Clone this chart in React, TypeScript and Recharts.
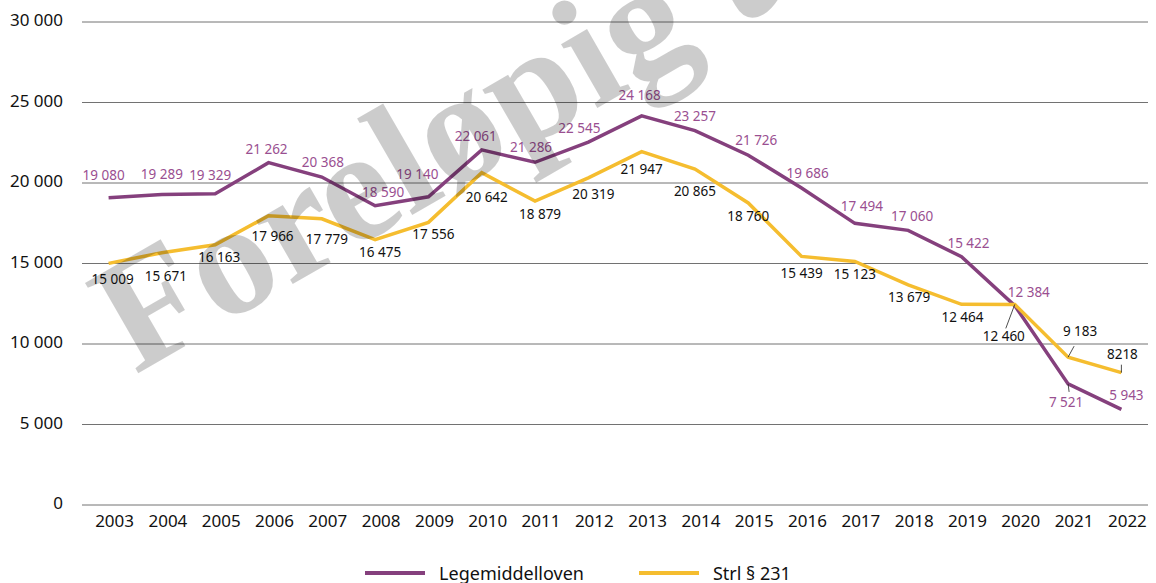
import React from 'react';
import { LineChart, Line, XAxis, YAxis, CartesianGrid, LabelList } from 'recharts';

document.body.style.margin = '0';

const years = [
  '2003', '2004', '2005', '2006', '2007', '2008', '2009', '2010', '2011', '2012',
  '2013', '2014', '2015', '2016', '2017', '2018', '2019', '2020', '2021', '2022',
];
const legemiddelloven = [
  19080, 19289, 19329, 21262, 20368, 18590, 19140, 22061, 21286, 22545,
  24168, 23257, 21726, 19686, 17494, 17060, 15422, 12384, 7521, 5943,
];
const strl231 = [
  15009, 15671, 16163, 17966, 17779, 16475, 17556, 20642, 18879, 20319,
  21947, 20865, 18760, 15439, 15123, 13679, 12464, 12460, 9183, 8218,
];
const yTicks = [0, 5000, 10000, 15000, 20000, 25000, 30000];
const seriesNames = ['Legemiddelloven', 'Strl § 231'];

// where each value label sits, relative to its point (text centre)
const legeLabelPos: [number, number][] = [
  [-5, -23], [0, -20], [-5, -19], [-2, -14], [1, -15], [8, -14], [-11, -23], [-6, -14], [-4, -15], [-9, -14],
  [-2, -21], [0, -15], [8, -15], [6, -15], [7, -17], [4, -14], [7, -14], [14, -14], [-2, 18], [5, -14],
];
const strlLabelPos: [number, number][] = [
  [4, 16], [4, 23], [4, 12], [4, 20], [5, 20], [5, 12], [5, 12], [5, 24], [5, 13], [5, 16],
  [0, 17], [0, 22], [0, 13], [0, 17], [0, 12], [1, 12], [1, 13], [-11, 32], [12, -26], [1, -19],
];
// small leader lines from the point toward the label
const legeLeaders: ([number, number] | null)[] = years.map((_, i) => (i === 18 ? [1, 8] : null));
const strlLeaders: ([number, number] | null)[] = years.map((_, i) =>
  i === 17 ? [-9, 24] : i === 18 ? [6, -11] : i === 19 ? [0, -8] : null
);
const strlLabelText: Record<number, string> = { 19: '8218' };

const PURPLE = '#85407d';
const PURPLE_TEXT = '#9a4f91';
const YELLOW = '#f5bd2f';
const FONT = "'Noto Sans', sans-serif";

const fmt = (v: number) => String(v).replace(/\B(?=(\d{3})+(?!\d))/g, ' ');

const data = years.map((year, i) => ({
  year,
  lege: legemiddelloven[i],
  strl: strl231[i],
}));

function makeLabel(pos: [number, number][], leaders: ([number, number] | null)[], color: string, overrides: Record<number, string>) {
  return (props: any) => {
    const { x, y, value, index } = props;
    if (x == null || y == null) return null;
    const [dx, dy] = pos[index] || [0, -14];
    const lead = leaders[index];
    return (
      <g>
        {lead && (
          <line x1={x} y1={y} x2={x + lead[0]} y2={y + lead[1]} stroke="#222" strokeWidth={0.8} />
        )}
        <text
          x={x + dx}
          y={y + dy}
          textAnchor="middle"
          dominantBaseline="central"
          fontFamily={FONT}
          fontSize={13.5}
          fill={color}
        >
          {overrides[index] ?? fmt(Number(value))}
        </text>
      </g>
    );
  };
}

export default function App() {
  return (
    <div style={{ position: 'relative', width: 1156, height: 583, background: '#fff' }}>
      <LineChart
        width={1156}
        height={583}
        data={data}
        margin={{ top: 22, right: 8, left: 0, bottom: 48 }}
      >
        <CartesianGrid vertical={false} stroke="#727272" strokeWidth={1} />
        <XAxis
          dataKey="year"
          axisLine={false}
          tickLine={false}
          tickSize={6}
          tickMargin={4}
          height={30}
          interval={0}
          padding={{ left: 26.6, right: 26.6 }}
          tick={{ fontSize: 17, fontFamily: FONT, fill: '#111', dx: 6 }}
        />
        <YAxis
          type="number"
          domain={[0, 30000]}
          ticks={yTicks}
          axisLine={false}
          tickLine={false}
          tickSize={6}
          tickMargin={13}
          width={82}
          tickFormatter={fmt}
          tick={{ fontSize: 17, fontFamily: FONT, fill: '#111', dy: -2 }}
        />
        <Line
          dataKey="lege"
          name={seriesNames[0]}
          stroke={PURPLE}
          strokeWidth={3.5}
          dot={false}
          activeDot={false}
          isAnimationActive={false}
        >
          <LabelList dataKey="lege" content={makeLabel(legeLabelPos, legeLeaders, PURPLE_TEXT, {})} />
        </Line>
        <Line
          dataKey="strl"
          name={seriesNames[1]}
          stroke={YELLOW}
          strokeWidth={3.5}
          dot={false}
          activeDot={false}
          isAnimationActive={false}
        >
          <LabelList dataKey="strl" content={makeLabel(strlLabelPos, strlLeaders, '#111', strlLabelText)} />
        </Line>
      </LineChart>

      <div
        style={{
          position: 'absolute',
          left: 0,
          top: 560,
          width: 1156,
          height: 26,
          display: 'flex',
          justifyContent: 'center',
          alignItems: 'center',
          gap: 55,
          fontFamily: FONT,
          fontSize: 18,
          color: '#111',
        }}
      >
        {[PURPLE, YELLOW].map((c, i) => (
          <div key={i} style={{ display: 'flex', alignItems: 'center' }}>
            <span style={{ display: 'inline-block', width: 60, height: 3.5, background: c, marginRight: 14 }} />
            <span>{seriesNames[i]}</span>
          </div>
        ))}
      </div>

      <svg
        width={1156}
        height={583}
        style={{ position: 'absolute', left: 0, top: 0, pointerEvents: 'none' }}
      >
        <text
          x={135}
          y={375}
          transform="rotate(-30 135 375)"
          fontFamily="'Liberation Serif', serif"
          fontWeight="bold"
          fontSize={160}
          fill="rgba(0,0,0,0.2)"
        >
          Foreløpig utgave
        </text>
      </svg>
    </div>
  );
}
